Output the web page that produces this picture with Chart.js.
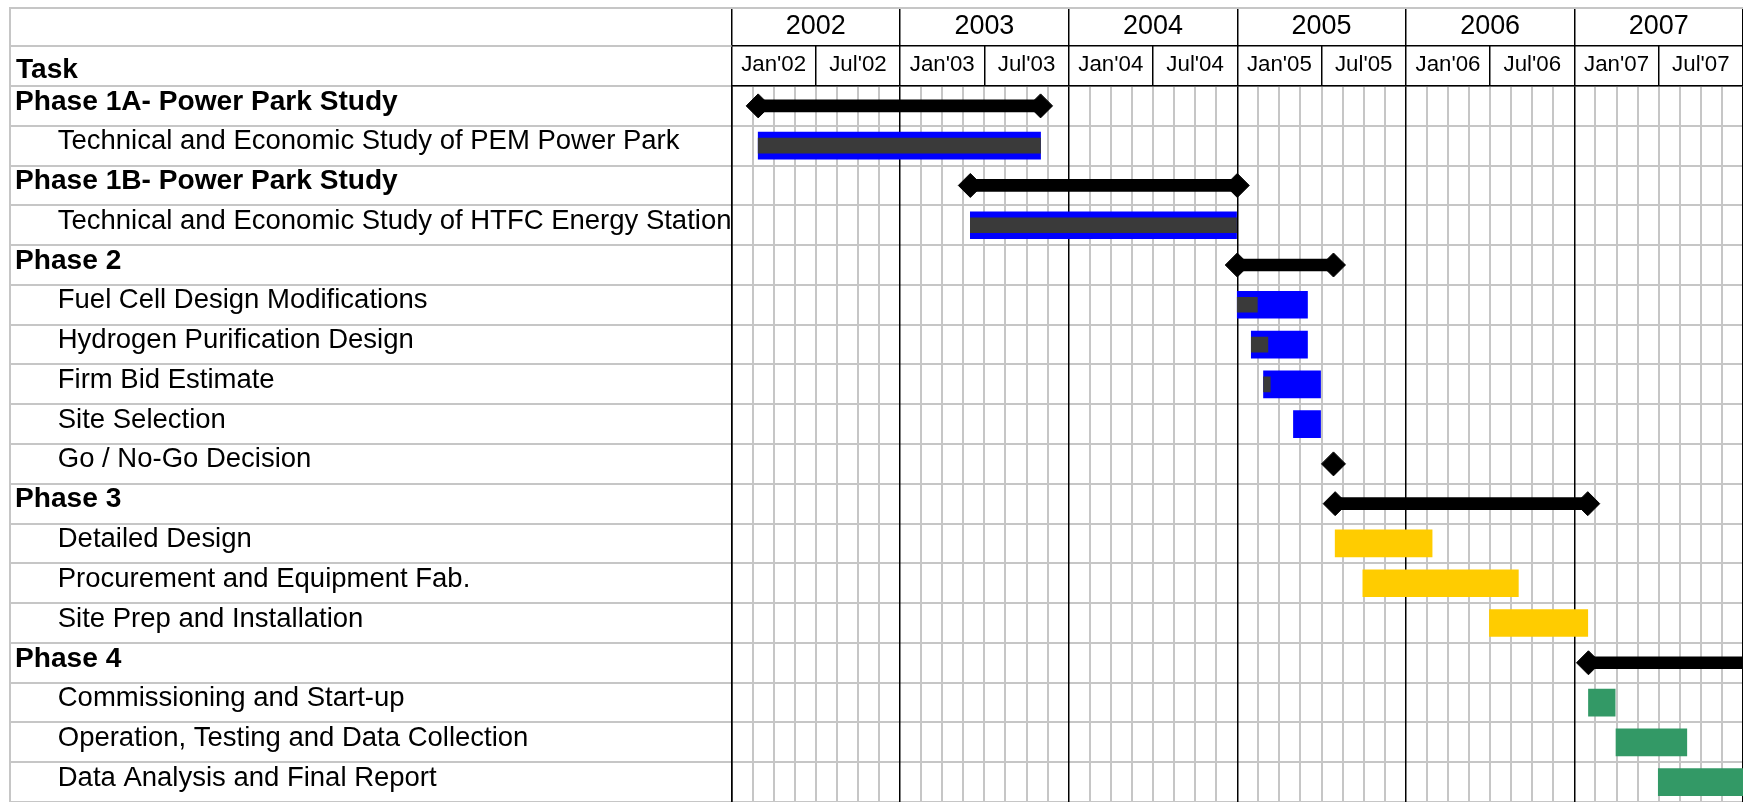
<!DOCTYPE html>
<html>
<head>
<meta charset="utf-8">
<script src="https://cdn.jsdelivr.net/npm/chart.js@4.4.1/dist/chart.umd.min.js"></script>
<style>
  html, body { margin: 0; padding: 0; background: #ffffff; overflow: hidden; }
  canvas { display: block; }
</style>
</head>
<body>
<canvas id="gantt" width="1743" height="802"></canvas>
<script>
// ---------- data (months counted from Jan 2002) ----------
const taskNames = [
  'Phase 1A- Power Park Study',
  'Technical and Economic Study of PEM Power Park',
  'Phase 1B- Power Park Study',
  'Technical and Economic Study of HTFC Energy Station',
  'Phase 2',
  'Fuel Cell Design Modifications',
  'Hydrogen Purification Design',
  'Firm Bid Estimate',
  'Site Selection',
  'Go / No-Go Decision',
  'Phase 3',
  'Detailed Design',
  'Procurement and Equipment Fab.',
  'Site Prep and Installation',
  'Phase 4',
  'Commissioning and Start-up',
  'Operation, Testing and Data Collection',
  'Data Analysis and Final Report'
];
const taskKind = ['phase','task','phase','task','phase','task','task','task','task','milestone',
                  'phase','task','task','task','phase','task','task','task'];
const taskGroup = [0,0,1,1,2,2,2,2,2,2,3,3,3,3,4,4,4,4];
const startMonth = [1.9, 1.9, 17.0, 17.0, 36.0, 36.0, 37.0, 37.87, 40.0, 42.85,
                    42.97, 42.97, 44.94, 53.95, 61.0, 61.0, 62.96, 65.97];
const endMonth   = [22.0, 22.0, 36.0, 35.95, 42.85, 41.0, 41.0, 41.93, 41.93, 42.85,
                    60.95, 49.87, 56.01, 60.95, 72.4, 62.9, 68.0, 72.4];
const doneMonth  = [null, 22.0, null, 35.95, null, 37.43, 38.18, 38.35, null, null,
                    null, null, null, null, null, null, null, null];
const yearLabels = ['2002','2003','2004','2005','2006','2007'];
const halfYearLabels = ["Jan'02","Jul'02","Jan'03","Jul'03","Jan'04","Jul'04",
                        "Jan'05","Jul'05","Jan'06","Jul'06","Jan'07","Jul'07"];
const headerTitle = 'Task';

// ---------- styles ----------
const groupColors = ['#0000ff', '#0000ff', '#0000ff', '#ffcc00', '#339966'];
const doneColor = '#3a3a3a';
const gridGray = '#c6c6c6';
const FAMILY = '"Liberation Sans", Arial, sans-serif';

// font sizes chosen so that text widths match the reference
const mctx = document.createElement('canvas').getContext('2d');
function sizeFor(text, weight, target) {
  mctx.font = weight + ' 100px ' + FAMILY;
  return 100 * target / mctx.measureText(text).width;
}
const TASK_SIZE = sizeFor('Technical and Economic Study of PEM Power Park', 'normal', 622);
const PHASE_SIZE = sizeFor('Phase 1A- Power Park Study', 'bold', 383);
const MONTH_SIZE = sizeFor("Jan'02", 'normal', 65);
const YEAR_SIZE = sizeFor('2002', 'normal', 60);

function buildIndent(target) {
  mctx.font = 'normal ' + TASK_SIZE + 'px ' + FAMILY;
  const w = (t) => mctx.measureText(t).width;
  let s = '';
  while (w(s + ' ') <= target) s += ' ';
  for (const ch of ['\u2009', '\u200A']) {
    let guard = 0;
    while (guard++ < 20 && w(s + ch) > w(s) && w(s + ch) <= target + 0.6) s += ch;
  }
  return s;
}
const INDENT = buildIndent(42.7);

// ---------- datasets built from the arrays ----------
const plannedData = taskNames.map((n, i) => taskKind[i] === 'task' ? [startMonth[i], endMonth[i]] : null);
const plannedColors = taskNames.map((n, i) => groupColors[taskGroup[i]]);
const doneData = taskNames.map((n, i) => doneMonth[i] != null ? [startMonth[i], doneMonth[i]] : null);
const summaryData = taskNames.map((n, i) => taskKind[i] === 'phase' ? [startMonth[i], endMonth[i]] : null);
const diamondData = [];
taskNames.forEach((n, i) => {
  if (taskKind[i] === 'phase') {
    diamondData.push({x: startMonth[i], y: n});
    diamondData.push({x: endMonth[i], y: n});
  } else if (taskKind[i] === 'milestone') {
    diamondData.push({x: startMonth[i], y: n});
  }
});

const LEFT = 15;          // left padding where labels start
const CHART_LEFT = 731.5; // chart area left edge
const TABLE_LEFT = 10;    // left border of the task table

const headerPlugin = {
  id: 'headerPlugin',
  afterDraw(chart) {
    const ctx = chart.ctx;
    const ca = chart.chartArea;
    ctx.save();
    ctx.strokeStyle = gridGray;
    ctx.lineWidth = 2;
    ctx.beginPath();
    ctx.moveTo(TABLE_LEFT, 8); ctx.lineTo(chart.width, 8);
    ctx.moveTo(TABLE_LEFT, 7); ctx.lineTo(TABLE_LEFT, chart.height);
    ctx.moveTo(TABLE_LEFT, 46); ctx.lineTo(ca.left, 46);
    ctx.stroke();
    ctx.fillStyle = '#000';
    ctx.font = 'bold ' + PHASE_SIZE + 'px ' + FAMILY;
    ctx.textBaseline = 'middle';
    ctx.textAlign = 'left';
    ctx.fillText(headerTitle, LEFT + 1, 70);
    ctx.restore();
  }
};

const zeroPad = (s) => { s.paddingTop = 0; s.paddingBottom = 0; s.paddingLeft = 0; s.paddingRight = 0; };

new Chart(document.getElementById('gantt'), {
  data: {
    labels: taskNames,
    datasets: [
      {
        type: 'scatter', label: 'Milestones', data: diamondData, order: 0,
        pointStyle: 'rectRot', pointRadius: 12, pointHoverRadius: 12,
        backgroundColor: '#000', borderColor: '#000', borderWidth: 1,
        xAxisID: 'x', yAxisID: 'y', showLine: false, clip: false
      },
      {
        type: 'bar', label: 'Complete', data: doneData, order: 1,
        backgroundColor: doneColor, barThickness: 15, grouped: false,
        xAxisID: 'x', yAxisID: 'y'
      },
      {
        type: 'bar', label: 'Summary', data: summaryData, order: 2,
        backgroundColor: '#000', barThickness: 12, grouped: false,
        xAxisID: 'x', yAxisID: 'y'
      },
      {
        type: 'bar', label: 'Planned', data: plannedData, order: 3,
        backgroundColor: plannedColors, barThickness: 27, grouped: false,
        xAxisID: 'x', yAxisID: 'y'
      }
    ]
  },
  options: {
    indexAxis: 'y',
    responsive: false,
    devicePixelRatio: 1,
    animation: false,
    events: [],
    layout: { autoPadding: false, padding: { left: LEFT, top: 7, right: 0, bottom: 0 } },
    plugins: { legend: { display: false }, tooltip: { enabled: false }, title: { display: false } },
    scales: {
      x: {
        type: 'linear', position: 'bottom', min: 0, max: 72,
        afterBuildTicks(scale) {
          const t = [];
          for (let v = 0; v <= 72; v += 1.5) t.push({ value: v });
          scale.ticks = t;
        },
        ticks: { display: false },
        border: { display: false },
        grid: {
          drawTicks: false,
          lineWidth: 2,
          color: (c) => (c.tick && c.tick.value % 12 === 0) ? 'rgba(0,0,0,0)' : gridGray
        },
        afterFit(s) { s.height = 0; zeroPad(s); }
      },
      y: {
        type: 'category', position: 'left', offset: true,
        grid: { offset: true, color: gridGray, lineWidth: 2, drawTicks: true, tickLength: CHART_LEFT - TABLE_LEFT },
        border: { display: true, color: '#000', width: 1.5 },
        ticks: {
          crossAlign: 'far',
          autoSkip: false,
          color: '#000',
          labelOffset: -4,
          font: (c) => taskKind[c.index] === 'phase'
            ? { family: FAMILY, size: PHASE_SIZE, lineHeight: 1, weight: 'bold' }
            : { family: FAMILY, size: TASK_SIZE, lineHeight: 1, weight: 'normal' },
          callback: function (value, index) {
            return (taskKind[index] === 'phase' ? '' : INDENT) + this.getLabelForValue(value);
          }
        },
        afterFit(s) { s.width = CHART_LEFT - LEFT; zeroPad(s); }
      },
      xHalf: {
        type: 'category', position: 'top', labels: halfYearLabels, offset: true, weight: 1,
        grid: { offset: true, drawOnChartArea: false, color: '#000', lineWidth: 1.5, tickLength: 40 },
        border: { display: true, color: '#000', width: 1.5 },
        ticks: { autoSkip: false, maxRotation: 0, color: '#000', padding: 46 - MONTH_SIZE / 2 - 64.5,
                 font: { family: FAMILY, size: MONTH_SIZE, lineHeight: 1 } },
        afterFit(s) { s.height = 40; zeroPad(s); }
      },
      xYear: {
        type: 'category', position: 'top', labels: yearLabels, offset: true, weight: 2,
        grid: { offset: true, drawOnChartArea: true, color: '#000', lineWidth: 1.5, tickLength: 39, z: -0.5 },
        border: { display: true, color: '#000', width: 1.5 },
        ticks: { autoSkip: false, maxRotation: 0, color: '#000', padding: 7 - YEAR_SIZE / 2 - 26.7,
                 font: { family: FAMILY, size: YEAR_SIZE, lineHeight: 1 } },
        afterFit(s) { s.height = 39; zeroPad(s); }
      }
    }
  },
  plugins: [headerPlugin]
});
</script>
</body>
</html>
